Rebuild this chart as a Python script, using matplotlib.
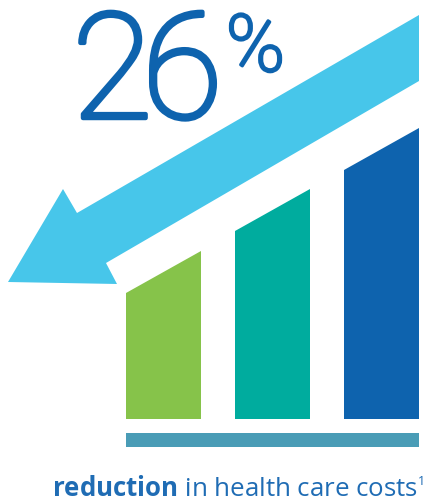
import matplotlib
matplotlib.use("Agg")
import matplotlib.pyplot as plt
from matplotlib.patches import Polygon, Rectangle
import matplotlib.patheffects as pe

# costs shown as three rising bars (height of the right edge of each bar)
bar_values = [168, 230, 291]
bar_colors = ["#86C34A", "#00AC9E", "#0E63AE"]
headline = "26"
headline_unit = "%"
caption_bold = "reduction"
caption_rest = " in health care costs"
footnote = "1"

plt.rcParams["mathtext.fontset"] = "custom"
plt.rcParams["mathtext.rm"] = "Open Sans"
plt.rcParams["mathtext.bf"] = "Open Sans:bold"

fig = plt.figure(figsize=(4.26, 5.03), dpi=100)
ax = fig.add_axes([0, 0, 1, 1])
ax.set_xlim(0, 426)
ax.set_ylim(503, 0)
ax.axis("off")

# bars with slanted tops
base = 419
bar_w = 75
slant = 42
for i, (v, c) in enumerate(zip(bar_values, bar_colors)):
    x0 = 126 + i * 109
    pts = [(x0, base), (x0, base - v + slant), (x0 + bar_w, base - v), (x0 + bar_w, base)]
    ax.add_patch(Polygon(pts, closed=True, facecolor=c, edgecolor="none"))

# floor line under the bars
ax.add_patch(Rectangle((126, 433), 293, 14, facecolor="#4A9CB6", edgecolor="none"))

# downward arrow
arrow = [(419, 15), (77, 213), (63, 189), (8, 282), (117, 284), (106, 263), (419, 81)]
ax.add_patch(Polygon(arrow, closed=True, facecolor="#47C6EA", edgecolor="none"))

# headline number, one digit at a time to keep them tight;
# the light face gets a thin outline to thicken the strokes a bit
blue = "#0E63AE"
thick = [pe.withStroke(linewidth=3.2, foreground=blue)]
for ch, x in zip(headline, [72, 142]):
    ax.text(x, 118, ch, fontsize=106, family="Roboto", weight="light",
            color=blue, ha="left", va="baseline", path_effects=thick)
ax.text(226, 71, headline_unit, fontsize=57, family="Roboto", weight="light",
        color=blue, ha="left", va="baseline",
        path_effects=[pe.withStroke(linewidth=2.2, foreground=blue)])

cap = ax.text(52, 496, r"$\bf{%s}$%s" % (caption_bold, caption_rest),
              fontsize=18.6, family="Open Sans", color="#1F6CB4",
              ha="left", va="baseline")
ax.annotate(footnote, xy=(1, 485), xycoords=(cap, "data"), xytext=(0, 0),
            textcoords="offset points", fontsize=9, family="Open Sans",
            color="#1F6CB4", ha="left", va="baseline")

fig.savefig("out.png", dpi=100)
